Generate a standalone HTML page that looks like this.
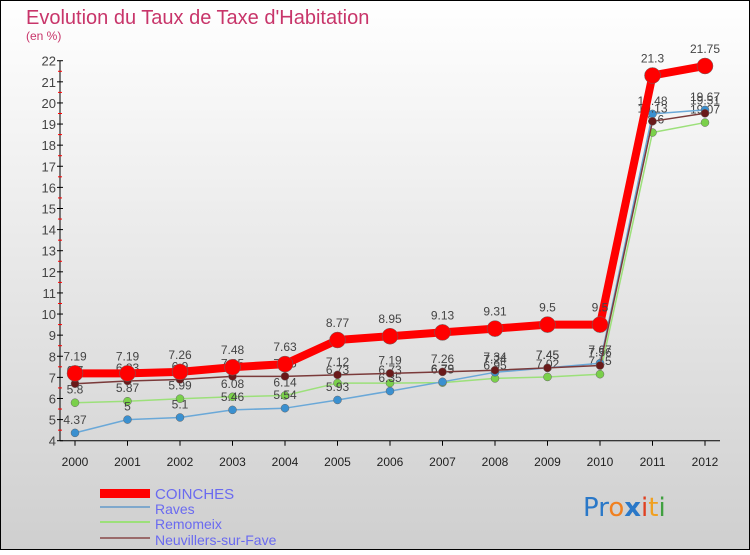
<!DOCTYPE html>
<html><head><meta charset="utf-8"><style>
html,body{margin:0;padding:0}
body{width:750px;height:550px;overflow:hidden;font-family:"Liberation Sans",sans-serif}
</style></head><body>
<svg width="750" height="550" xmlns="http://www.w3.org/2000/svg">
<defs><linearGradient id="bg" x1="0" y1="0" x2="0" y2="1"><stop offset="0" stop-color="#ffffff"/><stop offset="1" stop-color="#cfcfcf"/></linearGradient></defs>
<rect x="0.5" y="0.5" width="749" height="549" fill="url(#bg)" stroke="#000"/>
<text x="26" y="24" font-size="20" fill="#c8356a">Evolution du Taux de Taxe d'Habitation</text>
<text x="26" y="40" font-size="12" fill="#c8356a">(en %)</text>
<g id="axes"></g>
<g id="series"></g>
<g id="legend">
<rect x="100" y="489" width="50" height="9" fill="#f00"/>
<text x="155" y="499" font-size="15" fill="#6a6af0">COINCHES</text>
<rect x="100" y="506" width="50" height="2" fill="#7fa8cc"/>
<text x="155" y="514" font-size="14" fill="#6a6af0">Raves</text>
<rect x="100" y="521" width="50" height="2" fill="#9ce07a"/>
<text x="155" y="529" font-size="14" fill="#6a6af0">Remomeix</text>
<rect x="100" y="537" width="50" height="2" fill="#9a6a6a"/>
<text x="155" y="545" font-size="14" fill="#6a6af0">Neuvillers-sur-Fave</text>
</g>
<g font-size="26" font-family="DejaVu Sans, sans-serif">
<text x="583" y="516"><tspan fill="#2a78c8">Pr</tspan><tspan fill="#f08020">o</tspan><tspan fill="#2a78c8" font-weight="bold">x</tspan><tspan fill="#e04020">i</tspan><tspan fill="#f0a020">t</tspan><tspan fill="#40a040">i</tspan></text>
</g>
</svg>
<script>
const years=["2000","2001","2002","2003","2004","2005","2006","2007","2008","2009","2010","2011","2012"];
const yTicks=[4,5,6,7,8,9,10,11,12,13,14,15,16,17,18,19,20,21,22];
const coinches=[7.19,7.19,7.26,7.48,7.63,8.77,8.95,9.13,9.31,9.5,9.5,21.3,21.75];
const raves=[4.37,5,5.1,5.46,5.54,5.93,6.35,6.79,7.24,7.45,7.67,19.48,19.67];
const remomeix=[5.8,5.87,5.99,6.08,6.14,6.73,6.73,6.75,6.95,7.02,7.15,18.6,19.07];
const neuvillers=[6.7,6.83,6.9,7.05,7.05,7.12,7.19,7.26,7.34,7.45,7.56,19.13,19.51];
const NS="http://www.w3.org/2000/svg";
const X=i=>75+i*52.5;
const Y=v=>440.7-(v-4)*21.11;
function mk(t,a,p){const e=document.createElementNS(NS,t);for(const k in a)e.setAttribute(k,a[k]);p.appendChild(e);return e;}
const ax=document.getElementById('axes');
const yaxis=mk('line',{x1:60,y1:Y(22),x2:60,y2:Y(4),stroke:'#000'},ax);


yTicks.forEach(v=>{
 mk('line',{x1:57,x2:63,y1:Y(v),y2:Y(v),stroke:'#000'},ax);
 if(v<22) mk('line',{x1:58,x2:62,y1:Y(v+0.5),y2:Y(v+0.5),stroke:'#f00'},ax);
 const t=mk('text',{x:56,y:Y(v)+5,'font-size':13,'text-anchor':'end',fill:'#444'},ax);
 t.textContent=v;
 
 
});
const xaxis=mk('line',{x1:60,y1:Y(4),x2:720,y2:Y(4),stroke:'#000'},ax);
years.forEach((y,i)=>{
 mk('line',{x1:X(i),x2:X(i),y1:Y(4),y2:Y(4)+5,stroke:'#000'},ax);
 const t=mk('text',{x:X(i),y:466,'font-size':12,'text-anchor':'middle',fill:'#222'},ax);
 t.textContent=y;
 
 
});
const sg=document.getElementById('series');
function series(name,data,color,lw,r,fill){
 const g=mk('g',{},sg);
 
 
 const pl=mk('polyline',{points:data.map((v,i)=>X(i)+','+Y(v)).join(' '),fill:'none',stroke:color,'stroke-width':lw,'stroke-linejoin':'round'},g);
 
 
 data.forEach((v,i)=>{
  const c=mk('circle',{cx:X(i),cy:Y(v),r:r,fill:fill,stroke:'#666','stroke-width':0.5},g);
  
  
  const t=mk('text',{x:X(i),y:Y(v)-(r+5),'font-size':12,'text-anchor':'middle',fill:'#444'},g);
  t.textContent=v;
  
  
 });
}
series('remomeix',remomeix,'#9ce07a',1.5,4,'#7ad04a');
series('raves',raves,'#6aa8d8',1.5,4,'#3a90d0');
series('neuvillers',neuvillers,'#7a3a3a',1.5,4,'#6a1a1a');
series('coinches',coinches,'#f00',8,8,'#f00');
</script>
</body></html>
